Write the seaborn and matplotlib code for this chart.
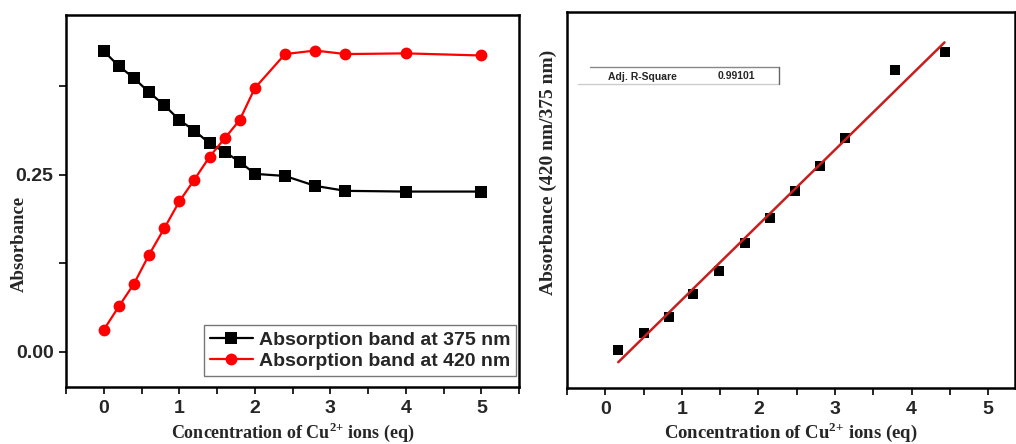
import numpy as np
import pandas as pd
import matplotlib
matplotlib.use("Agg")
import matplotlib.pyplot as plt
from matplotlib.ticker import MultipleLocator, FixedLocator
import seaborn as sns

# ---- data (left panel) ----
conc = [0, 0.2, 0.4, 0.6, 0.8, 1.0, 1.2, 1.4, 1.6, 1.8, 2.0, 2.4, 2.8, 3.2, 4.0, 5.0]
abs_375 = [0.424, 0.403, 0.386, 0.366, 0.348, 0.327, 0.312, 0.294, 0.282, 0.268,
           0.251, 0.248, 0.234, 0.227, 0.226, 0.226]
abs_420 = [0.031, 0.064, 0.096, 0.137, 0.174, 0.212, 0.243, 0.275, 0.301, 0.327,
           0.372, 0.420, 0.425, 0.420, 0.421, 0.418]
series_names = ["Absorption band at 375 nm", "Absorption band at 420 nm"]

# ---- data (right panel) ----
conc_fit = [0.17, 0.50, 0.83, 1.15, 1.49, 1.82, 2.15, 2.48, 2.81, 3.13, 3.78, 4.43]
ratio = [0.202, 0.291, 0.379, 0.500, 0.624, 0.773, 0.903, 1.049, 1.182, 1.330, 1.691, 1.789]
r2_label = "Adj. R-Square"
r2_value = "0.99101"

sns.set_theme(style="white")
plt.rcParams["font.family"] = ["Liberation Sans", "DejaVu Sans"]
plt.rcParams["mathtext.fontset"] = "custom"
plt.rcParams["mathtext.rm"] = "Liberation Serif:bold"
plt.rcParams["mathtext.bf"] = "Liberation Serif:bold"

fig = plt.figure(figsize=(10.16, 4.44), dpi=100)
ax1 = fig.add_axes([0.065, 0.128, 0.446, 0.838])
ax2 = fig.add_axes([0.558, 0.126, 0.441, 0.847])

df = pd.DataFrame({
    "x": conc * 2,
    "y": abs_375 + abs_420,
    "series": [series_names[0]] * len(conc) + [series_names[1]] * len(conc),
})

sns.lineplot(data=df, x="x", y="y", hue="series", style="series",
             palette={series_names[0]: "black", series_names[1]: "#ff0000"},
             markers={series_names[0]: "s", series_names[1]: "o"},
             dashes=False, markersize=8.5, markeredgewidth=0, linewidth=1.6,
             ax=ax1)

xlabel = r"Concentration of Cu$^{\text{2+}}$ ions (eq)"
serif_font = dict(family="Liberation Serif", weight="bold")

ax1.set_xlim(-0.5, 5.5)
ax1.set_ylim(-0.05, 0.475)
ax1.xaxis.set_major_locator(MultipleLocator(1))
ax1.xaxis.set_minor_locator(MultipleLocator(0.5))
ax1.yaxis.set_major_locator(FixedLocator([0.0, 0.25]))
ax1.yaxis.set_minor_locator(FixedLocator([0.125, 0.375]))
ax1.set_yticklabels(["0.00", "0.25"])
ax1.set_xlabel(xlabel, fontsize=13, labelpad=3, **serif_font)
ax1.set_ylabel("Absorbance", fontsize=13.5, **serif_font)
ax1.yaxis.set_label_coords(-0.085, 0.386)

leg = ax1.legend(loc="lower right", frameon=True, fancybox=False,
                 prop=dict(family="Liberation Sans", weight="bold", size=14),
                 handlelength=2.2, handletextpad=0.3, borderpad=0.3,
                 labelspacing=0.2, borderaxespad=0.0,
                 bbox_to_anchor=(0.993, 0.03))
leg.get_frame().set_edgecolor("#555555")
leg.get_frame().set_linewidth(1.0)
for h in leg.legend_handles:
    h.set_markersize(8.5)

# right panel
sns.regplot(x=conc_fit, y=ratio, ci=None, marker="s", ax=ax2,
            scatter_kws=dict(color="black", s=45, linewidths=0, alpha=1),
            line_kws=dict(color="#c81e1e", linewidth=1.8))
ax2.set_xlim(-0.5, 5.35)
ax2.set_ylim(0, 2.0)
ax2.xaxis.set_major_locator(MultipleLocator(1))
ax2.xaxis.set_minor_locator(MultipleLocator(0.5))
ax2.set_yticks([])
ax2.set_xlabel(xlabel, fontsize=13.5, labelpad=2, **serif_font)
ax2.set_ylabel("Absorbance (420 nm/375 nm)", fontsize=14, **serif_font)
ax2.yaxis.set_label_coords(-0.022, 0.574)

# R-square box
ax2.plot([0.051, 0.473], [0.854, 0.854], transform=ax2.transAxes, color="#888888", lw=1)
ax2.plot([0.025, 0.473], [0.809, 0.809], transform=ax2.transAxes, color="#cccccc", lw=1)
ax2.plot([0.473, 0.473], [0.809, 0.854], transform=ax2.transAxes, color="#666666", lw=1)
ax2.text(0.091, 0.818, r2_label, transform=ax2.transAxes, fontsize=7.5, weight="bold",
         va="baseline", ha="left", family="Liberation Sans")
ax2.text(0.336, 0.822, r2_value, transform=ax2.transAxes, fontsize=7.5, weight="bold",
         va="baseline", ha="left", family="Liberation Sans")

for ax in (ax1, ax2):
    for s in ax.spines.values():
        s.set_visible(True)
        s.set_color("black")
        s.set_linewidth(1.8)
    ax.tick_params(which="both", direction="out", length=5, width=1.2,
                   color="black", bottom=True, left=True, top=False, right=False)
    ax.tick_params(which="major", labelsize=14, pad=4)
    for lbl in ax.get_xticklabels() + ax.get_yticklabels():
        lbl.set_fontweight("bold")
        lbl.set_family("Liberation Sans")
ax2.tick_params(axis="y", which="both", left=False)

fig.savefig("out.png", dpi=100)
